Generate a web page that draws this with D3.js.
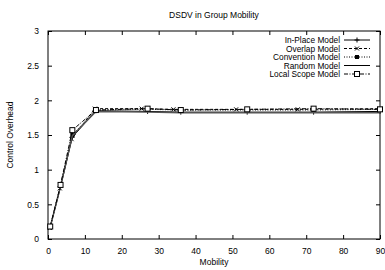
<!DOCTYPE html>
<html>
<head>
<meta charset="utf-8">
<script src="https://cdn.jsdelivr.net/npm/d3@7"></script>
<style>
  body { margin: 0; background: #fff; }
  svg { font-family: "Liberation Sans", Arial, sans-serif; }
</style>
</head>
<body>
<script>
// data
var mobility = [0.6, 3.4, 6.6, 13, 27, 36, 54, 72, 90];
var overlapMobility = [0.5, 3.2, 6.4, 12.7, 25.4, 34, 51, 67.7, 90];
var inPlace = [0.17, 0.75, 1.47, 1.85, 1.84, 1.83, 1.83, 1.83, 1.84];
var overlap = [0.16, 0.73, 1.44, 1.88, 1.88, 1.87, 1.87, 1.87, 1.88];
var convention = [0.18, 0.77, 1.50, 1.86, 1.87, 1.86, 1.86, 1.86, 1.87];
var random = [0.17, 0.76, 1.49, 1.84, 1.83, 1.82, 1.82, 1.82, 1.82];
var localScope = [0.18, 0.78, 1.57, 1.86, 1.88, 1.86, 1.87, 1.88, 1.87];
var xTicks = [0, 10, 20, 30, 40, 50, 60, 70, 80, 90];
var yTicks = [0, 0.5, 1, 1.5, 2, 2.5, 3];

var series = [
  {name: "In-Place Model", xs: mobility, ys: inPlace, dash: null, marker: "plus"},
  {name: "Overlap Model", xs: overlapMobility, ys: overlap, dash: "3,2", marker: "cross"},
  {name: "Convention Model", xs: mobility, ys: convention, dash: "1,1.5", marker: "filled"},
  {name: "Random Model", xs: mobility, ys: random, dash: null, marker: null},
  {name: "Local Scope Model", xs: mobility, ys: localScope, dash: "4,1.5,1,1.5", marker: "box"}
];

var margin = {top: 31, right: 5, bottom: 31, left: 48},
    width = 385 - margin.left - margin.right,
    height = 270 - margin.top - margin.bottom;

var x = d3.scaleLinear().domain([0, 90]).range([0, width]);
var y = d3.scaleLinear().domain([0, 3]).range([height, 0]);

var root = d3.select("body").append("svg")
    .attr("width", 385)
    .attr("height", 270);

root.append("text")
    .attr("x", margin.left + width / 2)
    .attr("y", 18)
    .attr("text-anchor", "middle")
    .style("font-size", "8.5px")
    .text("DSDV in Group Mobility");

root.append("text")
    .attr("transform", "translate(13," + (margin.top + height / 2) + ") rotate(-90)")
    .attr("text-anchor", "middle")
    .style("font-size", "8.5px")
    .text("Control Overhead");

root.append("text")
    .attr("x", margin.left + width / 2)
    .attr("y", 265)
    .attr("text-anchor", "middle")
    .style("font-size", "8.5px")
    .text("Mobility");

var svg = root.append("g")
    .attr("transform", "translate(" + margin.left + "," + margin.top + ")");

// axes, ticks pointing inwards and mirrored on top / right
function styleAxis(g) {
  g.select(".domain").remove();
  g.selectAll("line").attr("stroke", "#000");
  g.selectAll("text").style("font-size", "8.5px").attr("fill", "#000");
}
svg.append("g")
    .attr("transform", "translate(0," + height + ")")
    .call(d3.axisBottom(x).tickValues(xTicks).tickSize(-4).tickPadding(9).tickFormat(d3.format("d")))
    .call(styleAxis);
svg.append("g")
    .call(d3.axisTop(x).tickValues(xTicks).tickSize(-4).tickFormat(""))
    .call(styleAxis);
svg.append("g")
    .call(d3.axisLeft(y).tickValues(yTicks).tickSize(-4).tickPadding(9).tickFormat(d3.format("")))
    .call(styleAxis);
svg.append("g")
    .attr("transform", "translate(" + width + ",0)")
    .call(d3.axisRight(y).tickValues(yTicks).tickSize(-4).tickFormat(""))
    .call(styleAxis);

svg.append("rect")
    .attr("width", width)
    .attr("height", height)
    .attr("fill", "none")
    .attr("stroke", "#000")
    .attr("stroke-width", 1);

function drawMarker(g, type, cx, cy) {
  if (type == "plus") {
    g.append("path").attr("d", "M" + (cx - 2.5) + "," + cy + "h5M" + cx + "," + (cy - 2.5) + "v5")
      .attr("stroke", "#000").attr("stroke-width", 1);
  } else if (type == "cross") {
    g.append("path").attr("d", "M" + (cx - 2) + "," + (cy - 2) + "l4,4M" + (cx - 2) + "," + (cy + 2) + "l4,-4")
      .attr("stroke", "#000").attr("stroke-width", 1);
  } else if (type == "filled") {
    g.append("rect").attr("x", cx - 2).attr("y", cy - 2).attr("width", 4).attr("height", 4)
      .attr("fill", "#000");
  } else if (type == "box") {
    g.append("rect").attr("x", cx - 2.5).attr("y", cy - 2.5).attr("width", 5).attr("height", 5)
      .attr("fill", "#fff").attr("stroke", "#000").attr("stroke-width", 1);
  }
}

var line = d3.line()
    .x(function(d) { return x(d[0]); })
    .y(function(d) { return y(d[1]); });

series.forEach(function(s) {
  var pts = s.xs.map(function(v, i) { return [v, s.ys[i]]; });
  svg.append("path")
      .datum(pts)
      .attr("fill", "none")
      .attr("stroke", s.name == "Random Model" ? "#555" : "#000")
      .attr("stroke-width", s.name == "Random Model" ? 1.4 : 1)
      .attr("stroke-dasharray", s.dash)
      .attr("d", line);
  if (s.marker) {
    pts.forEach(function(p) { drawMarker(svg, s.marker, x(p[0]), y(p[1])); });
  }
});

// legend
var legend = root.append("g");
series.forEach(function(s, i) {
  var ly = 40 + i * 8.5;
  legend.append("text")
      .attr("x", 340)
      .attr("y", ly + 3)
      .attr("text-anchor", "end")
      .style("font-size", "8.3px")
      .text(s.name);
  legend.append("line")
      .attr("x1", 344).attr("x2", 370)
      .attr("y1", ly).attr("y2", ly)
      .attr("stroke", "#000")
      .attr("stroke-width", 1)
      .attr("stroke-dasharray", s.dash);
  if (s.marker) drawMarker(legend, s.marker, 357, ly);
});
</script>
</body>
</html>
